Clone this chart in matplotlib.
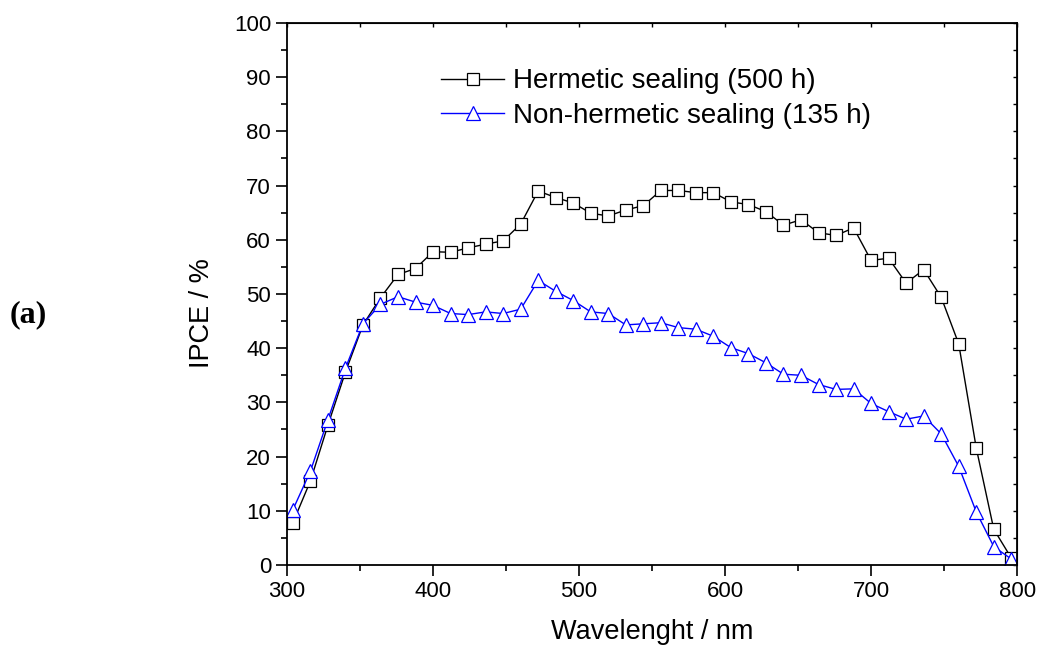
"""IPCE spectra of cells with hermetic vs. non-hermetic sealing."""

import numpy as np
import matplotlib.pyplot as plt

plt.rcParams["font.family"] = ["Liberation Sans", "DejaVu Sans"]

# Wavelength grid (nm), one point every 12 nm
wavelength = [304, 316, 328, 340, 352, 364, 376, 388, 400, 412, 424, 436, 448, 460,
              472, 484, 496, 508, 520, 532, 544, 556, 568, 580, 592, 604, 616, 628,
              640, 652, 664, 676, 688, 700, 712, 724, 736, 748, 760, 772, 784, 796]

# IPCE (%) after 500 h, hermetically sealed
ipce_hermetic = [7.8, 15.5, 25.8, 35.6, 44.3, 49.3, 53.6, 54.7, 57.8, 57.7, 58.5, 59.2,
                 59.8, 62.9, 69.0, 67.8, 66.8, 64.9, 64.4, 65.5, 66.3, 69.1, 69.1, 68.7,
                 68.7, 67.0, 66.5, 65.2, 62.7, 63.7, 61.3, 60.8, 62.2, 56.2, 56.6, 52.0,
                 54.5, 49.4, 40.8, 21.6, 6.6, 1.3]

# IPCE (%) after 135 h, non-hermetic sealing
ipce_nonhermetic = [10.2, 17.3, 26.8, 36.3, 44.5, 48.1, 49.5, 48.5, 47.9, 46.4, 46.2, 46.7,
                    46.4, 47.2, 52.5, 50.5, 48.8, 46.7, 46.4, 44.3, 44.5, 44.7, 43.8, 43.5,
                    42.2, 40.1, 39.0, 37.3, 35.2, 35.0, 33.3, 32.4, 32.5, 29.8, 28.3, 26.9,
                    27.5, 24.2, 18.2, 9.8, 3.4, 1.1]

fig = plt.figure(figsize=(10.4, 6.55), dpi=100)
ax = fig.add_axes([0.276, 0.1374, 0.702, 0.8275])

ax.plot(wavelength, ipce_hermetic, color="black", lw=1.0, marker="s", ms=8,
        mfc="white", mec="black", mew=0.9, label="Hermetic sealing (500 h)")
ax.plot(wavelength, ipce_nonhermetic, color="#0000ff", lw=1.0, marker="^", ms=10.5,
        mfc="white", mec="#0000ff", mew=0.9, label="Non-hermetic sealing (135 h)")

ax.set_xlim(300, 800)
ax.set_ylim(0, 100)
ax.set_xticks(np.arange(300, 801, 100))
ax.set_xticks(np.arange(350, 800, 100), minor=True)
ax.set_yticks(np.arange(0, 101, 10))
ax.set_yticks(np.arange(5, 100, 10), minor=True)
ax.tick_params(which="major", direction="out", length=8, width=1.2, labelsize=16)
ax.tick_params(which="minor", direction="out", length=4.5, width=1.2)
for sp in ax.spines.values():
    sp.set_linewidth(1.3)

# small inward ticks on the top and right frame
top = ax.secondary_xaxis("top")
top.set_xticks(np.arange(300, 801, 50))
top.tick_params(direction="in", length=3, width=1.0, labeltop=False)
right = ax.secondary_yaxis("right")
right.set_yticks(np.arange(0, 101, 5))
right.tick_params(direction="in", length=3, width=1.0, labelright=False)

ax.set_xlabel("Wavelenght / nm", fontsize=19.5, labelpad=12)
ax.set_ylabel("IPCE / %", fontsize=19.5)
ax.yaxis.set_label_coords(-0.099, 0.465)

ax.legend(loc="upper left", bbox_to_anchor=(0.192, 0.942), frameon=False, fontsize=20,
          handlelength=2.27, handletextpad=0.32, labelspacing=0.3, borderpad=0)

fig.text(0.009, 0.519, "(a)", family="Liberation Serif", weight="bold", fontsize=23,
         va="center")

fig.savefig("out.png", dpi=100)
